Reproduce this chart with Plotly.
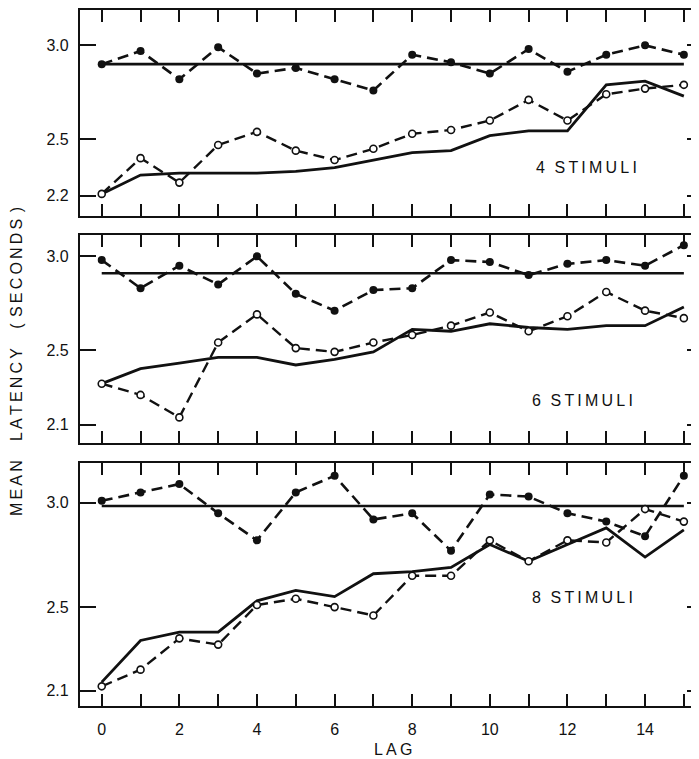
import plotly.graph_objects as go

# ---------------- data ----------------
lags = list(range(16))

p4_filled = [2.90, 2.97, 2.82, 2.99, 2.85, 2.88, 2.82, 2.76, 2.95, 2.91, 2.85, 2.98, 2.86, 2.95, 3.00, 2.95]
p4_open   = [2.21, 2.40, 2.27, 2.47, 2.54, 2.44, 2.39, 2.45, 2.53, 2.55, 2.60, 2.71, 2.60, 2.74, 2.77, 2.79]
p4_solid  = [2.21, 2.31, 2.32, 2.32, 2.32, 2.33, 2.35, 2.39, 2.43, 2.44, 2.52, 2.545, 2.545, 2.79, 2.81, 2.73]
p4_mean   = 2.90

p6_filled = [2.98, 2.83, 2.95, 2.85, 3.00, 2.80, 2.71, 2.82, 2.83, 2.98, 2.97, 2.90, 2.96, 2.98, 2.95, 3.06]
p6_open   = [2.32, 2.26, 2.14, 2.54, 2.69, 2.51, 2.49, 2.54, 2.58, 2.63, 2.70, 2.60, 2.68, 2.81, 2.71, 2.67]
p6_solid  = [2.32, 2.40, 2.43, 2.46, 2.46, 2.42, 2.45, 2.49, 2.61, 2.60, 2.64, 2.62, 2.61, 2.63, 2.63, 2.73]
p6_mean   = 2.91

p8_filled = [3.01, 3.05, 3.09, 2.95, 2.82, 3.05, 3.13, 2.92, 2.95, 2.77, 3.04, 3.03, 2.95, 2.91, 2.84, 3.13]
p8_open   = [2.12, 2.20, 2.35, 2.32, 2.51, 2.54, 2.50, 2.46, 2.65, 2.65, 2.82, 2.72, 2.82, 2.81, 2.97, 2.91]
p8_solid  = [2.14, 2.34, 2.38, 2.38, 2.53, 2.58, 2.55, 2.66, 2.67, 2.69, 2.80, 2.72, 2.80, 2.88, 2.74, 2.87]
p8_mean   = 2.985

TS = "\u2009"
panel_labels = ["4" + TS * 3 + TS.join("STIMULI"),
                "6" + TS * 3 + TS.join("STIMULI"),
                "8" + TS * 3 + TS.join("STIMULI")]
ytick_sets = [[2.2, 2.5, 3.0], [2.1, 2.5, 3.0], [2.1, 2.5, 3.0]]
ytick_text = [["2.2", "2.5", "3.0"], ["2.1", "2.5", "3.0"], ["2.1", "2.5", "3.0"]]
xtick_text = [str(v) if v % 2 == 0 and v < 15 else "" for v in lags]
x_title = TS.join("LAG")
y_title = (TS.join("MEAN") + "\u2003" + TS + TS.join("LATENCY") + "\u2003" + TS
           + "(" + TS * 2 + TS.join("SECONDS") + TS * 2 + ")")

# ---------------- layout geometry ----------------
# the page body adds an 8px offset; the figure is sized so it fills the window
OFF = 8
W, H = 699 - OFF, 759 - OFF
FONT = "Liberation Sans, Arial, sans-serif"
INK = "#111111"


def px_x(v):
    return min(1.0, max(0.0, (v - OFF) / W))


def px_y(v):
    return min(1.0, max(0.0, 1 - (v - OFF) / H))


y_domains = [[px_y(215), px_y(8)], [px_y(442), px_y(234)], [px_y(706), px_y(462)]]
y_ranges = [[2.090, 3.188], [2.004, 3.112], [2.025, 3.192]]
x_range = [-0.56, 15.39]
x_domain = [px_x(80), 1.0]
label_pos = [(12.5, 2.35), (12.4, 2.228), (12.4, 2.546)]

panels = [(p4_filled, p4_open, p4_solid, p4_mean),
          (p6_filled, p6_open, p6_solid, p6_mean),
          (p8_filled, p8_open, p8_solid, p8_mean)]

fig = go.Figure()

for i, (filled, opened, solid, mean) in enumerate(panels):
    sx = "" if i == 0 else str(i + 1)
    xa, ya = "x" + sx, "y" + sx
    fig.add_trace(go.Scatter(x=lags, y=[mean] * len(lags), xaxis=xa, yaxis=ya, mode="lines",
                             line=dict(color=INK, width=2.6), showlegend=False, hoverinfo="skip"))
    fig.add_trace(go.Scatter(x=lags, y=solid, xaxis=xa, yaxis=ya, mode="lines",
                             line=dict(color=INK, width=2.8), showlegend=False, hoverinfo="skip"))
    fig.add_trace(go.Scatter(x=lags, y=filled, xaxis=xa, yaxis=ya, mode="lines+markers",
                             line=dict(color=INK, width=2.6, dash="11px,6px"),
                             marker=dict(symbol="circle", size=8, color=INK),
                             showlegend=False, hoverinfo="skip"))
    fig.add_trace(go.Scatter(x=lags, y=opened, xaxis=xa, yaxis=ya, mode="lines+markers",
                             line=dict(color=INK, width=2.4, dash="11px,6px"),
                             marker=dict(symbol="circle", size=7, color="white",
                                         line=dict(color=INK, width=1.6)),
                             showlegend=False, hoverinfo="skip"))

    xkey = "xaxis" + sx
    ykey = "yaxis" + sx
    fig.layout[xkey] = dict(domain=x_domain, anchor=ya, range=x_range,
                            tickmode="array", tickvals=lags,
                            ticktext=xtick_text, showticklabels=(i == 2),
                            ticks="inside", ticklen=12, tickwidth=1.6, tickcolor=INK,
                            showline=True, linewidth=2.2, linecolor=INK, mirror="ticks",
                            showgrid=False, zeroline=False, ticklabelstandoff=8,
                            tickfont=dict(family=FONT, size=16, color=INK))
    fig.layout[ykey] = dict(domain=y_domains[i], anchor=xa, range=y_ranges[i],
                            tickmode="array", tickvals=ytick_sets[i], ticktext=ytick_text[i],
                            ticks="inside", ticklen=16, tickwidth=1.6, tickcolor=INK,
                            showline=True, linewidth=2.2, linecolor=INK, mirror=False,
                            showgrid=False, zeroline=False, ticklabelstandoff=6,
                            tickfont=dict(family=FONT, size=16, color=INK))
    rk = "yaxis" + str(i + 4)
    fig.layout[rk] = dict(overlaying=ya, side="right", anchor=xa, range=y_ranges[i],
                          tickmode="array", tickvals=ytick_sets[i], showticklabels=False,
                          ticks="inside", ticklen=12, tickwidth=1.6, tickcolor=INK,
                          showline=False, showgrid=False, zeroline=False)
    fig.add_trace(go.Scatter(x=[None], y=[None], xaxis=xa, yaxis="y" + str(i + 4),
                             mode="lines", showlegend=False, hoverinfo="skip"))

    lx, ly = label_pos[i]
    fig.add_annotation(x=lx, y=ly, xref=xa, yref=ya, text=panel_labels[i], showarrow=False,
                       font=dict(family=FONT, size=16, color=INK), xanchor="center", yanchor="middle")

fig.add_annotation(x=px_x(393), y=px_y(749), xref="paper", yref="paper",
                   text=x_title, showarrow=False,
                   font=dict(family=FONT, size=16, color=INK), xanchor="center", yanchor="middle")
fig.add_annotation(x=px_x(16), y=px_y(361), xref="paper", yref="paper", textangle=-90,
                   text=y_title, showarrow=False, font=dict(family=FONT, size=16, color=INK),
                   xanchor="center", yanchor="middle")

fig.update_layout(width=W, height=H, margin=dict(l=0, r=0, t=0, b=0),
                  paper_bgcolor="white", plot_bgcolor="white", showlegend=False)

fig.write_html("out.html")
